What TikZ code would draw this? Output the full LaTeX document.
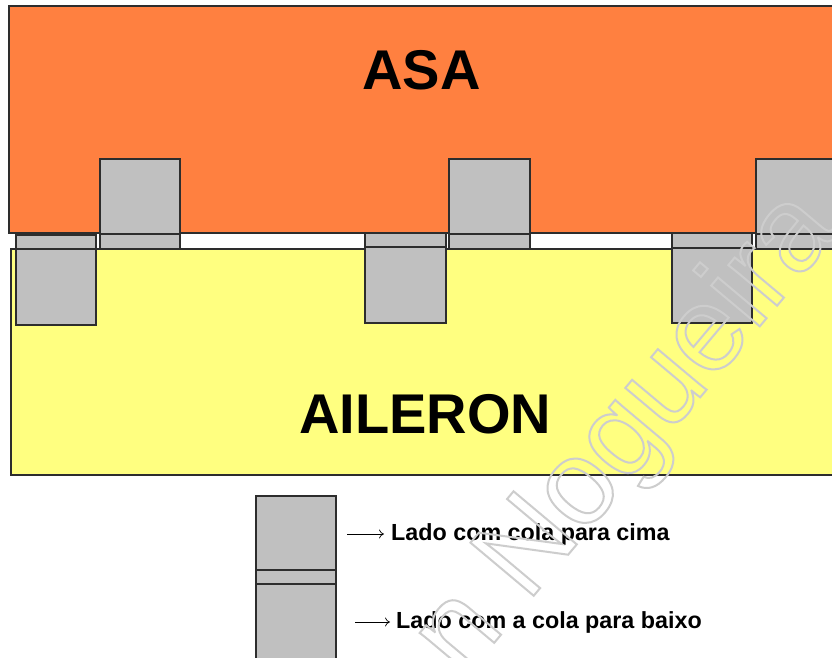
\documentclass[tikz,border=0pt]{standalone}
\usepackage{fontspec}
\setmainfont{Liberation Sans}
\usetikzlibrary{arrows.meta}
\definecolor{asaorange}{RGB}{255,128,64}
\definecolor{ailyellow}{RGB}{255,255,128}
\definecolor{hingegray}{RGB}{192,192,192}
\definecolor{edgecol}{RGB}{45,45,45}
\definecolor{wmgray}{RGB}{205,205,205}
\newcommand{\outlinetext}[1]{\special{pdf:code 1 Tr 2 w}#1\special{pdf:code 0 Tr}}
\begin{document}
\begin{tikzpicture}[x=1pt,y=-1pt,
  part/.style={draw=edgecol,line width=1.2pt},
  hinge/.style={part,fill=hingegray},
  title/.style={font=\fontsize{56}{60}\selectfont\bfseries,anchor=base,inner sep=0pt},
  legend/.style={font=\fontsize{23.3}{26}\selectfont\bfseries,anchor=base west,inner sep=0pt},
  arr/.style={-{To[length=5pt,width=9pt]},line width=0.7pt},
  wm/.style={font=\fontsize{120}{122}\selectfont,text=wmgray,anchor=base west,inner sep=0pt}]
\useasboundingbox (0,0) rectangle (832,658);
\clip (0,0) rectangle (832,658);
\fill[white] (0,0) rectangle (832,658);
% wing and aileron
\draw[part,fill=asaorange] (9,6) rectangle (845,233);
\draw[part,fill=ailyellow] (11,249) rectangle (845,475);
% hinges glued to the wing
\draw[hinge] (100,159) rectangle (180,249); \draw[part] (100,234) -- (180,234);
\draw[hinge] (449,159) rectangle (530,249); \draw[part] (449,234) -- (530,234);
\draw[hinge] (756,159) rectangle (845,249); \draw[part] (756,234) -- (845,234);
% hinges glued to the aileron
\draw[hinge] (16,235) rectangle (96,325); \draw[part] (16,249) -- (96,249);
\draw[hinge] (365,233) rectangle (446,323); \draw[part] (365,247) -- (446,247);
\draw[hinge] (672,233) rectangle (752,323); \draw[part] (672,248) -- (752,248);
% labels
\node[title] (asa) at (421.5,90) {ASA};
\node[title] (ail) at (425,433) {AILERON};
% legend
\draw[hinge] (256,496) rectangle (336,670);
\draw[part] (256,570) -- (336,570);
\draw[part] (256,584) -- (336,584);
\node[legend] (t1) at (391,540) {Lado com cola para cima};
\node[legend] (t2) at (396,628) {Lado com a cola para baixo};
\coordinate (a1) at (347,534); \coordinate (b1) at (384,534);
\coordinate (a2) at (355,622); \coordinate (b2) at (390,622);
\draw[arr] (a1) -- (b1);
\draw[arr] (a2) -- (b2);
% watermark
\node[wm,rotate=50] (wm) at (463,680) {\outlinetext{n Nogueira}};
\end{tikzpicture}
\end{document}
